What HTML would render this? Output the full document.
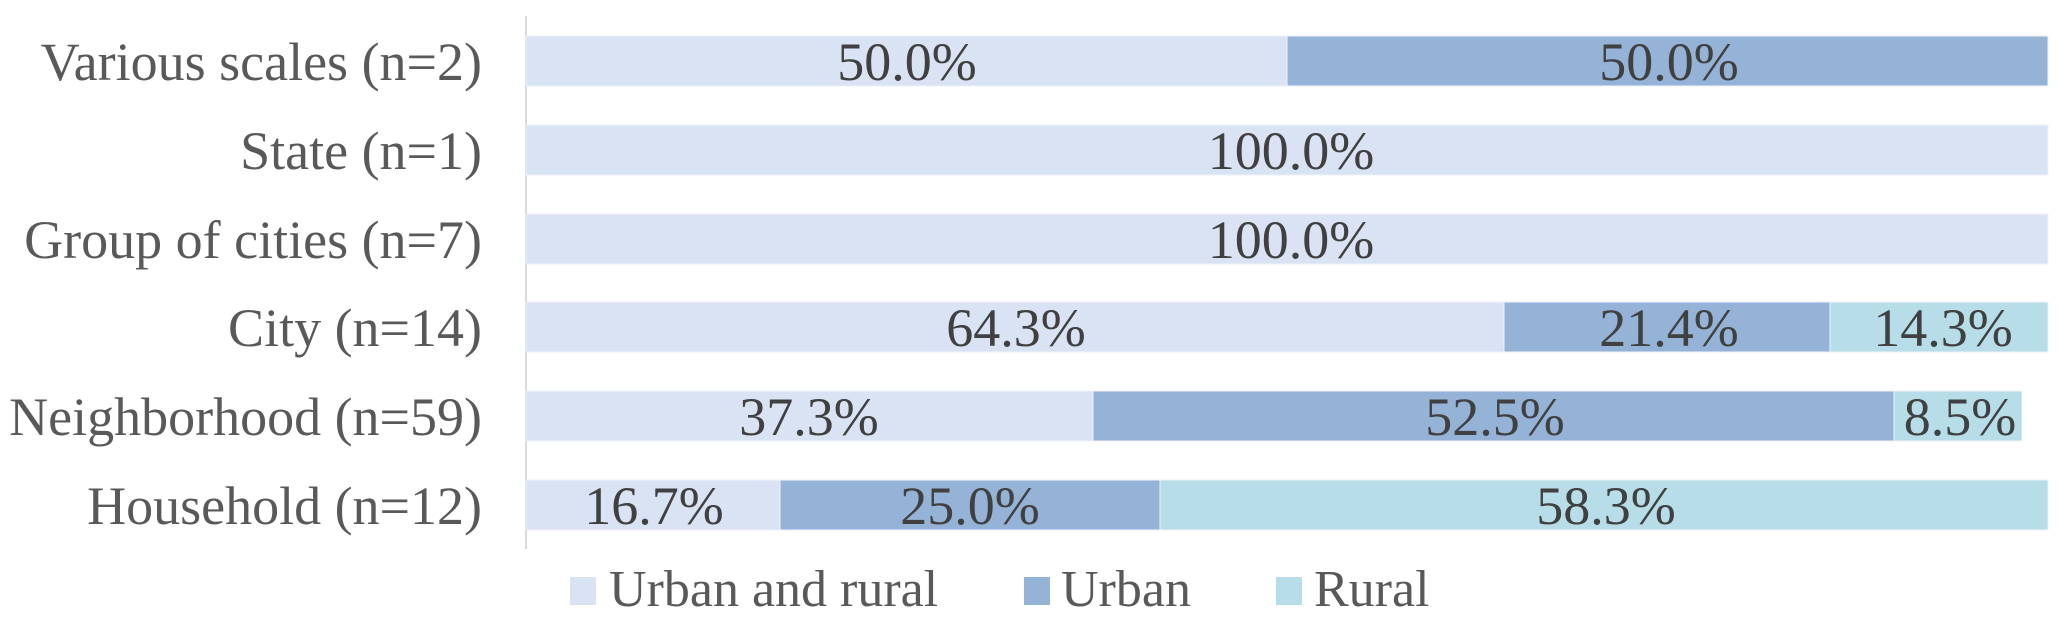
<!DOCTYPE html>
<html><head><style>body{margin:0;background:#fff}svg{display:block}</style></head>
<body>
<svg width="2067" height="628" viewBox="0 0 2067 628" xmlns="http://www.w3.org/2000/svg" font-family="'Liberation Serif', serif">
<line x1="526" y1="16" x2="526" y2="549" stroke="#d9d9d9" stroke-width="2"/>
<g stroke="#eef2fa" stroke-width="1">
<rect x="526" y="36" width="761" height="50" fill="#dae3f3"/>
<rect x="1287" y="36" width="761" height="50" fill="#95b3d7"/>
<rect x="526" y="125" width="1522" height="50" fill="#dae3f3"/>
<rect x="526" y="214" width="1522" height="50" fill="#dae3f3"/>
<rect x="526" y="302" width="978" height="50" fill="#dae3f3"/>
<rect x="1504" y="302" width="326" height="50" fill="#95b3d7"/>
<rect x="1830" y="302" width="218" height="50" fill="#b7dee8"/>
<rect x="526" y="391" width="567" height="50" fill="#dae3f3"/>
<rect x="1093" y="391" width="801" height="50" fill="#95b3d7"/>
<rect x="1894" y="391" width="128" height="50" fill="#b7dee8"/>
<rect x="526" y="480" width="254" height="50" fill="#dae3f3"/>
<rect x="780" y="480" width="380" height="50" fill="#95b3d7"/>
<rect x="1160" y="480" width="888" height="50" fill="#b7dee8"/>
</g>
<g font-size="54" fill="#595959" text-anchor="end">
<text x="482" y="80">Various scales (n=2)</text>
<text x="482" y="169">State (n=1)</text>
<text x="482" y="258">Group of cities (n=7)</text>
<text x="482" y="346">City (n=14)</text>
<text x="482" y="435">Neighborhood (n=59)</text>
<text x="482" y="524">Household (n=12)</text>
</g>
<g font-size="54" fill="#404040" text-anchor="middle">
<text x="907" y="80">50.0%</text>
<text x="1669" y="80">50.0%</text>
<text x="1291" y="169">100.0%</text>
<text x="1291" y="258">100.0%</text>
<text x="1016" y="346">64.3%</text>
<text x="1669" y="346">21.4%</text>
<text x="1943" y="346">14.3%</text>
<text x="809" y="435">37.3%</text>
<text x="1495" y="435">52.5%</text>
<text x="1960" y="435">8.5%</text>
<text x="654" y="524">16.7%</text>
<text x="970" y="524">25.0%</text>
<text x="1606" y="524">58.3%</text>
</g>
<rect x="570" y="577" width="26" height="28" fill="#dae3f3"/>
<rect x="1024" y="577" width="26" height="28" fill="#95b3d7"/>
<rect x="1276" y="577" width="26" height="28" fill="#b7dee8"/>
<g font-size="52" fill="#595959">
<text x="609" y="606">Urban and rural</text>
<text x="1061" y="606">Urban</text>
<text x="1314" y="606">Rural</text>
</g>
</svg>
</body></html>
